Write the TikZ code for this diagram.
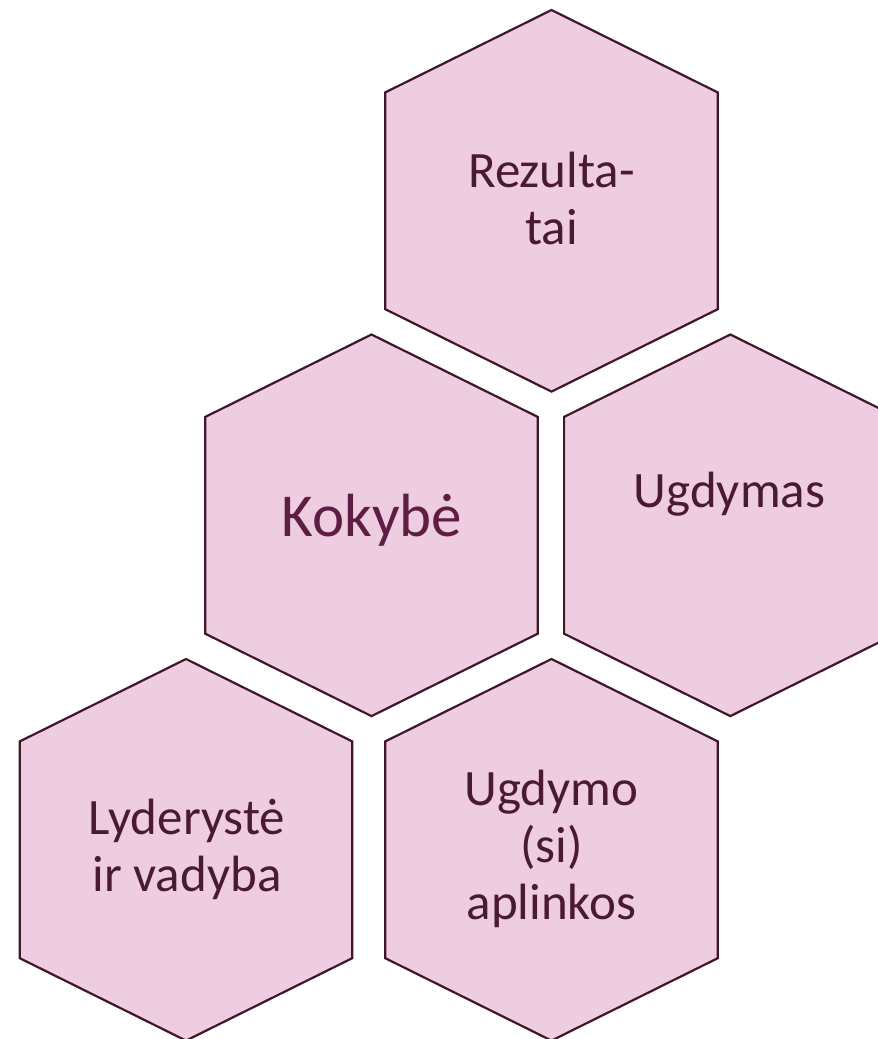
\documentclass[tikz,border=0pt]{standalone}
\usepackage{fontspec}
\setmainfont{Carlito}
\definecolor{hexfill}{RGB}{239,205,224}
\definecolor{hexline}{RGB}{64,22,44}
\definecolor{lbltext}{RGB}{74,26,51}
\definecolor{keytext}{RGB}{94,30,68}
\tikzset{
  hexa/.pic={
    \draw[fill=hexfill,draw=hexline,line width=2.2pt,line join=miter]
      (0,0) -- (166.2,82.4) -- (166.2,299.2) -- (0,381.6) -- (-166.2,299.2) -- (-166.2,82.4) -- cycle;
  },
  lbl/.style={text=lbltext,font=\fontsize{51}{57}\selectfont,align=center,inner sep=0pt,anchor=base},
  key/.style={text=keytext,font=\fontsize{61}{66}\selectfont,inner sep=0pt,anchor=base}
}
\begin{document}
\begin{tikzpicture}[x=1pt,y=-1pt]
\useasboundingbox (0,0) rectangle (878,1039);
\clip (0,0) rectangle (878,1039);
\pic at (551.5,10) {hexa};
\pic at (371.5,334.5) {hexa};
\pic at (730.3,334.5) {hexa};
\pic at (186,659) {hexa};
\pic at (551.5,659) {hexa};
% multi-line nodes: base anchor is the baseline of the last line
\node[lbl] (rez) at (551.5,244) {Rezulta-\\tai};
\node[key] (kok) at (372,536.7) {Kokybė};
\node[lbl] (ugd) at (729.5,507.7) {Ugdymas};
\node[lbl] (lyd) at (187,891.7) {Lyderystė\\ir vadyba};
\node[lbl] (apl) at (551.5,919) {Ugdymo\\(si)\\aplinkos};
\end{tikzpicture}
\end{document}
